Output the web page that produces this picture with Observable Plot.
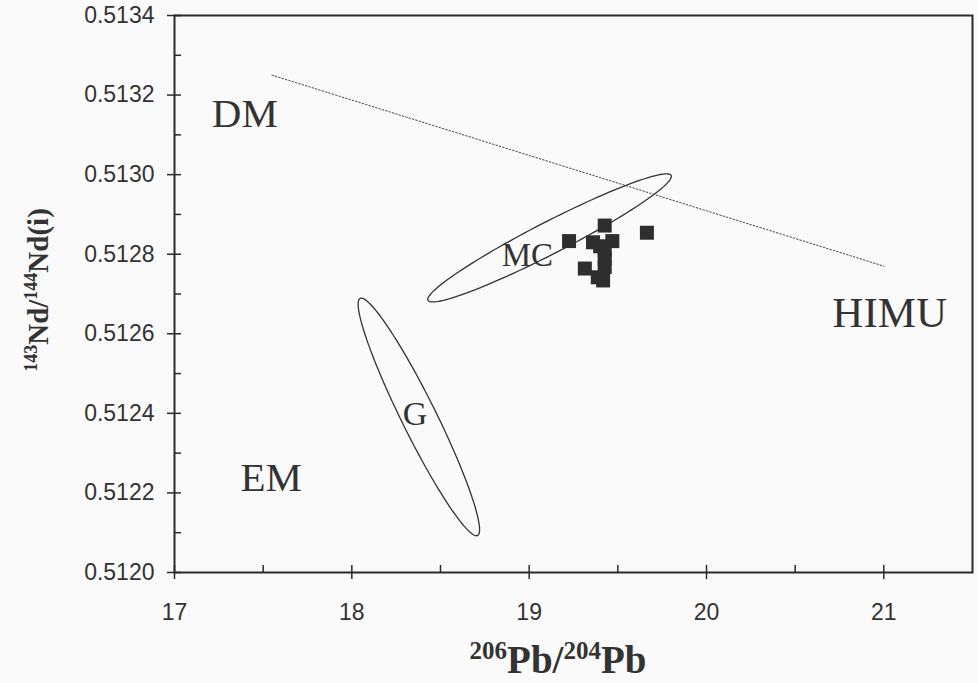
<!DOCTYPE html>
<html><head><meta charset="utf-8">
<script src="https://cdn.jsdelivr.net/npm/d3@7"></script>
<script src="https://cdn.jsdelivr.net/npm/@observablehq/plot@0.6"></script>
<style>
body{margin:0;background:#fafafa;}
#chart svg{background:#fafafa;}
</style>
</head><body><div id="chart"></div>
<script>
// Samples (206Pb/204Pb, 143Nd/144Nd(i))
const sampleX = [19.225, 19.426, 19.360, 19.469, 19.426, 19.314, 19.426, 19.417, 19.664, 19.387, 19.426, 19.400];
const sampleY = [0.512833, 0.512872, 0.512830, 0.512833, 0.512810, 0.512764, 0.512768, 0.512734, 0.512854, 0.512742, 0.512789, 0.512820];

// Dotted reference line
const refLineX = [17.55, 21.0];
const refLineY = [0.51325, 0.51277];

// Fields as ellipses: centre, semi-axis vectors (data units)
const fieldNames = ["MC", "G"];
const fieldCx = [19.115, 18.378];
const fieldCy = [0.512841, 0.512391];
const fieldAx = [0.6856, 0.3310];
const fieldAy = [0.000157, -0.000298];
const fieldBx = [0.041, 0.0875];
const fieldBy = [-0.0000358, 0.0000196];

// End-member and field labels
const labelText = ["DM", "HIMU", "EM", "MC", "G"];
const labelX = [17.397, 21.033, 17.546, 18.990, 18.357];
const labelY = [0.513153, 0.512652, 0.512237, 0.512796, 0.512397];
const labelSize = [41, 43, 41, 33, 34];

// Ticks
const xTicks = [17, 18, 19, 20, 21];
const xMinor = [17.5, 18.5, 19.5, 20.5];
const yTicks = [0.5120, 0.5122, 0.5124, 0.5126, 0.5128, 0.5130, 0.5132, 0.5134];
const yMinor = [0.5121, 0.5123, 0.5125, 0.5127, 0.5129, 0.5131, 0.5133];

const samples = sampleX.map((x, i) => ({x, y: sampleY[i]}));
const refLine = refLineX.map((x, i) => ({x, y: refLineY[i]}));
const labels = labelText.map((t, i) => ({t, x: labelX[i], y: labelY[i], s: labelSize[i]}));
const N = 120;
const ellipsePts = [];
fieldNames.forEach((name, k) => {
  for (let j = 0; j < N; j++) {
    const t = 2 * Math.PI * j / N;
    ellipsePts.push({
      name,
      x: fieldCx[k] + Math.cos(t) * fieldAx[k] + Math.sin(t) * fieldBx[k],
      y: fieldCy[k] + Math.cos(t) * fieldAy[k] + Math.sin(t) * fieldBy[k]
    });
  }
});

const ink = "#333";
const plot = Plot.plot({
  width: 978, height: 683,
  marginLeft: 174, marginRight: 6, marginTop: 15, marginBottom: 111,
  style: {background: "#fafafa", color: ink, fontFamily: "'Liberation Sans', Arial, sans-serif", fontSize: "23px"},
  x: {domain: [17, 21.5], label: null},
  y: {domain: [0.5120, 0.5134], label: null},
  marks: [
    Plot.axisX({ticks: xTicks, tickSize: 0, tickPadding: 31, tickFormat: d => String(d), label: null, fontSize: 23, fill: ink}),
    Plot.axisY({ticks: yTicks, tickSize: 0, tickPadding: 20, tickFormat: d3.format(".4f"), label: null, fontSize: 23, fill: ink}),
    Plot.line(ellipsePts, {x: "x", y: "y", z: "name", curve: "linear-closed", stroke: "#333", strokeWidth: 1.3}),
    Plot.line(refLine, {x: "x", y: "y", stroke: "#444", strokeWidth: 1, strokeDasharray: "1.5,2"}),
    Plot.dot(samples, {x: "x", y: "y", symbol: "square", r: 7.9, fill: "#2e2e2e", stroke: "none"}),
    Plot.text(labels, {x: "x", y: "y", text: "t", fontSize: "s", fontFamily: "'Liberation Serif', 'Times New Roman', serif", fill: "#333"}),
    Plot.ruleX(xTicks, {x: d => d, y1: 0.5120, y2: 0.5120, insetTop: -7, insetBottom: -7, stroke: "#2a2a2a", strokeWidth: 1.5}),
    Plot.ruleX(xMinor, {x: d => d, y1: 0.5120, y2: 0.5120, insetTop: -3.5, insetBottom: -3.5, dy: -3.5, stroke: "#2a2a2a", strokeWidth: 1.5}),
    Plot.ruleY(yTicks, {y: d => d, x1: 17, x2: 17, insetLeft: -7, insetRight: -7, stroke: "#2a2a2a", strokeWidth: 1.5}),
    Plot.ruleY(yMinor, {y: d => d, x1: 17, x2: 17, insetLeft: -3.5, insetRight: -3.5, dx: 3.5, stroke: "#2a2a2a", strokeWidth: 1.5}),
    Plot.frame({stroke: "#2a2a2a", strokeWidth: 2})
  ]
});
document.getElementById("chart").appendChild(plot);

// Axis titles with superscripts
const svg = d3.select(plot);
const serif = "'Liberation Serif', 'Times New Roman', serif";
const xl = svg.append("text")
  .attr("x", 558).attr("y", 673)
  .attr("text-anchor", "middle")
  .attr("font-family", serif).attr("font-weight", "bold").attr("font-size", 39).attr("fill", "#333");
xl.append("tspan").attr("font-size", 25).attr("dy", -14).text("206");
xl.append("tspan").attr("dy", 14).text("Pb/");
xl.append("tspan").attr("font-size", 25).attr("dy", -14).text("204");
xl.append("tspan").attr("dy", 14).text("Pb");

const yl = svg.append("text")
  .attr("transform", "translate(48,290) rotate(-90)")
  .attr("text-anchor", "middle")
  .attr("font-family", serif).attr("font-weight", "bold").attr("font-size", 29).attr("fill", "#333");
yl.append("tspan").attr("font-size", 18).attr("dy", -11).text("143");
yl.append("tspan").attr("dy", 11).text("Nd/");
yl.append("tspan").attr("font-size", 18).attr("dy", -11).text("144");
yl.append("tspan").attr("dy", 11).text("Nd(i)");
</script>
</body></html>
